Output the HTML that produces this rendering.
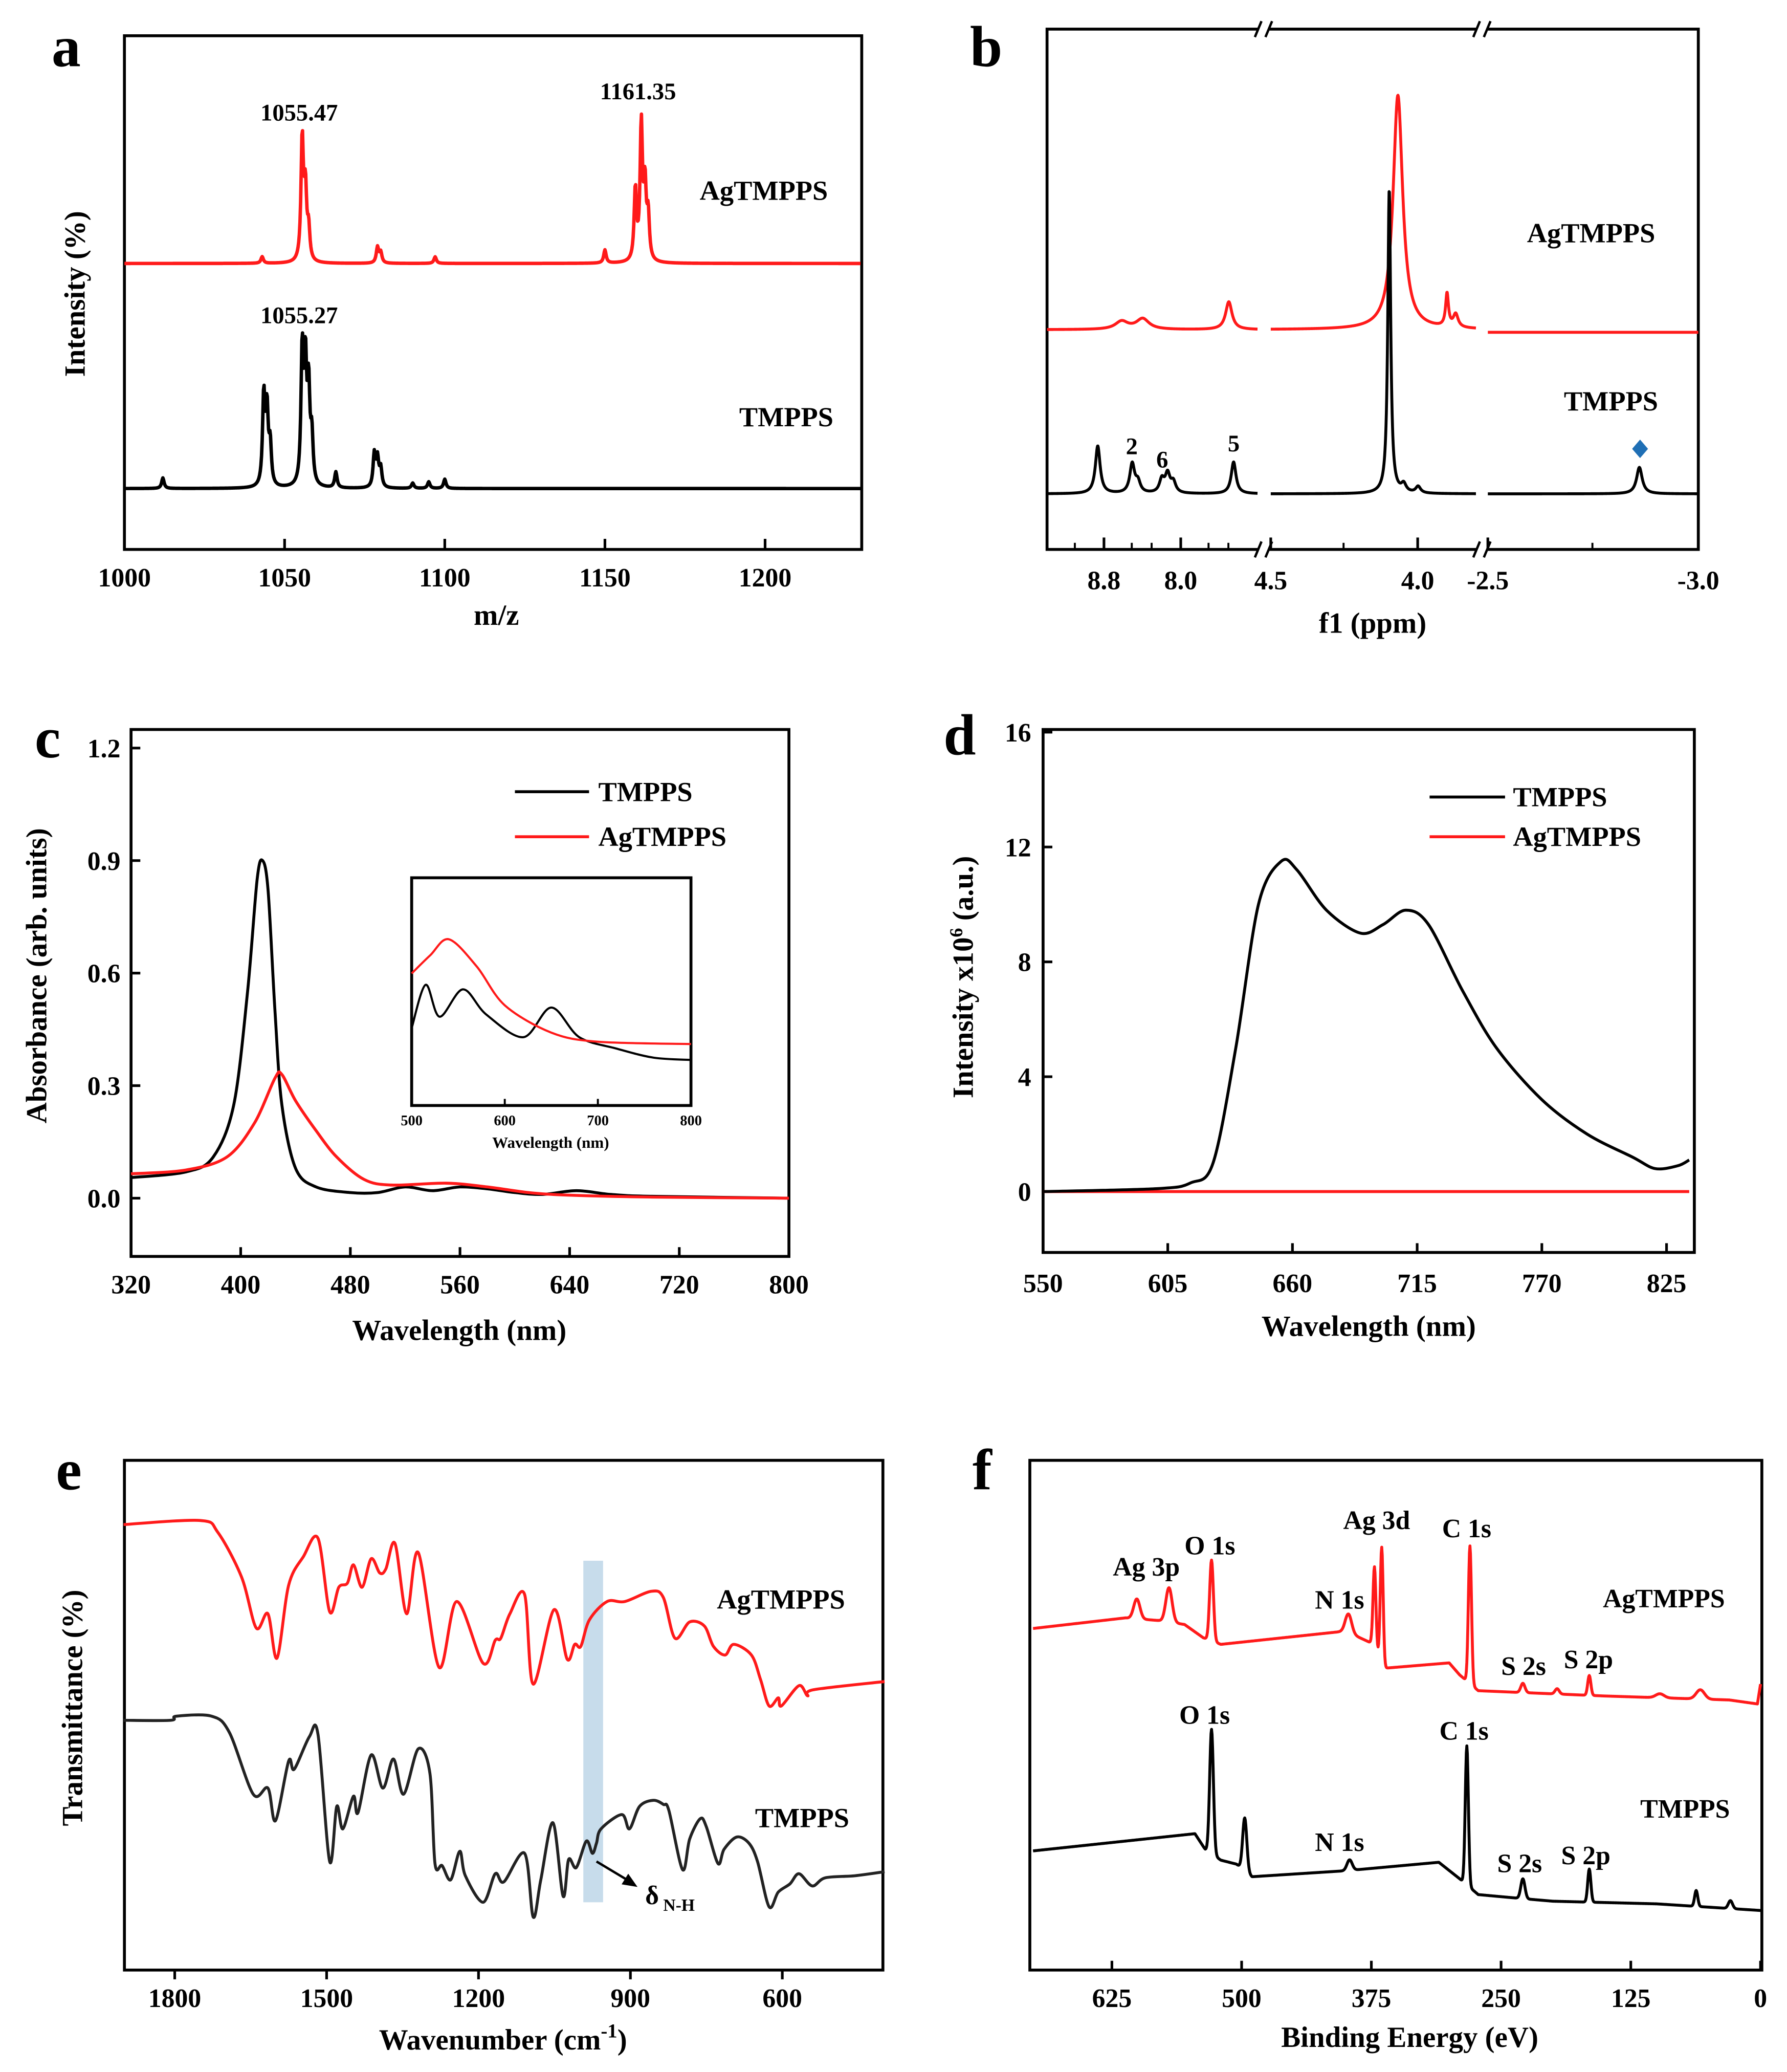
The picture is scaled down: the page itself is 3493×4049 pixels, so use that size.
<!DOCTYPE html>
<html><head><meta charset="utf-8"><style>
html,body{margin:0;padding:0;background:#fff}
svg{display:block}
text{font-family:"Liberation Serif",serif;font-weight:bold;fill:#000}
</style></head><body>
<svg id="fig" xmlns="http://www.w3.org/2000/svg" width="3493" height="4049" viewBox="0 0 1350 1565" preserveAspectRatio="none">
<rect width="1350" height="1565" fill="#fff"/>
</svg>
<script>
// ---------- DATA ----------
const aRedPeaks=[[1043,5],[1055.5,93],[1056.5,52],[1057.5,23],[1079,12],[1080,8],[1097,5],[1150,10],[1159.5,54],[1161.35,102],[1162.5,54],[1163.5,33]];
const aBlackPeaks=[[1012,8],[1043.5,68],[1044.5,56],[1045.5,30],[1055.5,100],[1056.5,87],[1057.5,70],[1058.5,35],[1066,12],[1078,25],[1079,21],[1080,14],[1090,4],[1095,5],[1100,7]];
const aTicks=[1000,1050,1100,1150,1200];
const bBlackPeaks=[[8.87,36,0.03],[8.51,22,0.03],[8.45,8,0.03],[8.20,10,0.03],[8.14,14,0.03],[8.08,8,0.03],[7.45,24,0.03],[4.09,230,0.006],[4.04,6,0.01],[3.99,5,0.01],[-2.86,20,0.008]];
const bRedPeaks=[[8.62,6,0.08],[8.40,8,0.08],[7.5,21,0.04],[4.06,177,0.02],[3.89,25,0.006],[3.86,10,0.01]];
const bTickLabels=[["8.8",834],["8.0",892],["4.5",960],["4.0",1071],["-2.5",1124],["-3.0",1283]];
const cWl=[320,360,380,395,405,412,416,420,425,430,440,455,480,500,520,540,560,580,600,620,645,670,700,800];
const cBlack=[0.055,0.07,0.11,0.25,0.55,0.85,0.9,0.82,0.5,0.25,0.08,0.03,0.015,0.015,0.03,0.02,0.03,0.025,0.015,0.01,0.02,0.01,0.005,0.0];
const cRedWl=[320,360,390,410,425,430,440,455,470,490,510,550,580,610,640,700,800];
const cRed=[0.065,0.075,0.11,0.2,0.32,0.33,0.26,0.18,0.11,0.05,0.035,0.04,0.03,0.015,0.008,0.003,0];
const cTicksX=[320,400,480,560,640,720,800];
const cTicksY=[0,0.3,0.6,0.9,1.2];
const insWlB=[500,515,530,555,580,620,650,680,720,760,800];
const insB=[0.34,0.53,0.39,0.51,0.4,0.3,0.43,0.3,0.25,0.21,0.2];
const insWlR=[500,520,540,570,600,650,700,800];
const insR=[0.58,0.66,0.73,0.61,0.44,0.32,0.28,0.27];
const dWl=[550,600,615,625,635,645,655,662,675,690,700,710,720,735,750,770,790,810,820,830,835];
const dBlack=[0,0.1,0.3,1,5,10,11.5,11.2,9.8,9.0,9.3,9.8,9.3,7,5,3.2,2,1.2,0.8,0.9,1.1];
const dRed=[0,0,0,0,0,0,0,0,0,0,0,0,0,0,0,0,0,0,0,0,0];
const dTicksX=[550,605,660,715,770,825];
const dTicksY=[0,4,8,12,16];
const eWnR=[1901,1750,1715,1668,1639,1616,1598,1575,1546,1517,1494,1476,1459,1447,1430,1412,1395,1383,1365,1342,1319,1278,1243,1191,1167,1156,1138,1109,1092,1051,1025,1010,998,981,946,911,859,835,812,783,754,736,713,696,661,643,626,608,602,567,550,538,398];
const eR=[87.4,88.2,85.9,77.1,67.1,69.9,61.2,75.5,81.1,84.7,70.3,75.1,75.9,79.5,75.1,80.7,77.9,78.7,83.7,69.9,81.9,59.4,72.3,60.2,64.7,65.1,69.9,73.7,56.1,70.7,61.0,63.9,63.5,68.7,72.3,72.3,74.3,73.1,65.1,68.3,67.5,63.5,61.8,63.9,61.8,57.0,51.8,53.4,51.8,55.8,53.8,55.0,56.6];
const eWnK=[1901,1808,1797,1727,1692,1645,1616,1601,1575,1564,1534,1517,1494,1480,1468,1447,1438,1412,1389,1368,1348,1319,1296,1286,1272,1255,1237,1226,1191,1167,1150,1109,1092,1077,1053,1033,1022,1007,987,975,967,958,917,902,882,855,835,824,797,783,762,750,727,715,690,666,649,626,608,585,567,541,515,457,398];
const eK=[49.0,49.0,49.8,49.8,46.6,34.5,35.7,29.3,41.0,39.4,45.8,46.2,21.3,32.1,27.7,34.1,30.9,42.2,35.7,41.4,34.5,43.4,38.6,20.9,20.5,17.7,23.3,18.5,13.3,18.9,17.3,22.9,10.4,17.7,28.9,14.5,21.7,20.1,25.3,22.9,24.9,27.7,30.5,27.7,32.1,33.3,32.5,31.3,19.7,25.7,29.7,28.1,20.9,23.7,26.1,24.9,21.3,12.4,15.3,16.9,18.9,16.5,18.1,18.5,19.3];
const eTicks=[1800,1500,1200,900,600];
const fRedBaseE=[701,612,580,555,537,520,400,375,362,300,290,272,150,30,3,0];
const fRedBase=[258,266,264,261,251,246,256,247,228,232,223,211,207,204,201,216];
const fRedPeaks=[[601,15,3],[570,26,3],[529,61,1.8],[397,14,3],[372,62,1.4],[365,87,1.4],[280,104,1.5],[229,7,2],[196,4,2],[165,15,1.5],[97,3,4],[58,7,4]];
const fBlackBaseE=[701,545,535,520,505,490,400,310,290,272,230,200,100,0];
const fBlackBase=[90,103,91,83,80,70.5,75,81.4,69,57,54,52,50,45];
const fBlackPeaks=[[529,94,1.8],[497,40,2],[396,8,2.5],[283,105,1.5],[229,15,2],[165,25,1.5],[62,12,1.5],[29,6,2]];
const fTicks=[625,500,375,250,125,0];

// ---------- helpers ----------
const svg=document.getElementById('fig');
const NS='http://www.w3.org/2000/svg';
function mk(tag,attrs,parent){const e=document.createElementNS(NS,tag);for(const k in attrs)e.setAttribute(k,attrs[k]);(parent||svg).appendChild(e);return e;}
function txt(s,x,y,size,anchor,parent,extra){const t=mk('text',Object.assign({x:x,y:y,'font-size':size,'text-anchor':anchor||'middle'},extra||{}),parent);t.textContent=s;return t;}
function lin(d0,d1,p0,p1){return v=>p0+(v-d0)*(p1-p0)/(d1-d0);}
function poly(pts,color,w,parent){return mk('polyline',{points:pts.map(p=>p[0].toFixed(2)+','+p[1].toFixed(2)).join(' '),fill:'none',stroke:color,'stroke-width':w,'stroke-linejoin':'round'},parent);}
function smooth(pts,color,w,parent){let d='M'+pts[0][0].toFixed(2)+','+pts[0][1].toFixed(2);for(let i=0;i<pts.length-1;i++){const p0=pts[Math.max(0,i-1)],p1=pts[i],p2=pts[i+1],p3=pts[Math.min(pts.length-1,i+2)];const t=0.16;const c1=[p1[0]+(p2[0]-p0[0])*t,p1[1]+(p2[1]-p0[1])*t],c2=[p2[0]-(p3[0]-p1[0])*t,p2[1]-(p3[1]-p1[1])*t];d+=`C${c1[0].toFixed(2)},${c1[1].toFixed(2)} ${c2[0].toFixed(2)},${c2[1].toFixed(2)} ${p2[0].toFixed(2)},${p2[1].toFixed(2)}`;}return mk('path',{d:d,fill:'none',stroke:color,'stroke-width':w,'stroke-linejoin':'round'},parent);}
function interp(xs,ys,x){for(let i=0;i<xs.length-1;i++){const a=xs[i],b=xs[i+1];if((x-a)*(x-b)<=0){return ys[i]+(ys[i+1]-ys[i])*(x-a)/(b-a);}}return ys[ys.length-1];}
function box(x,y,w,h,parent){mk('rect',{x:x,y:y,width:w,height:h,fill:'none',stroke:'#000','stroke-width':2.2},parent);}
function lor(x,c,w){return 1/(1+((x-c)/w)*((x-c)/w));}
function gau(x,c,w){return Math.exp(-0.5*((x-c)/w)*((x-c)/w));}

// ---------- panel a ----------
let g=mk('g',{});


txt('a',50,50,44,'middle',g,{'font-weight':'normal'});
box(94,27,557,388,g);
const axA=lin(1000,1200,94,578);
aTicks.forEach(t=>{mk('line',{x1:axA(t),y1:415,x2:axA(t),y2:407,stroke:'#000','stroke-width':2},g);txt(String(t),axA(t),443,20,'middle',g);});
function msLine(peaks,base,color,name){const pts=[];for(let m=1000;m<=1230;m+=0.2){let v=0;peaks.forEach(p=>v+=p[1]*lor(m,p[0],0.45));pts.push([axA(m),base-v]);}const l=poly(pts,color,2.6,g);}
msLine(aRedPeaks,199,'#ff1a1a','agtmpps-ms-line');
msLine(aBlackPeaks,369,'#000','tmpps-ms-line');
txt('1055.47',226,91,18,'middle',g);txt('1161.35',482,75,18,'middle',g);txt('1055.27',226,244,18,'middle',g);
txt('AgTMPPS',577,151,21,'middle',g);txt('TMPPS',594,322,21,'middle',g);
txt('Intensity (%)',0,0,22,'middle',g,{transform:'translate(64,222) rotate(-90)'});
txt('m/z',375,472,22,'middle',g);

// ---------- panel b ----------
g=mk('g',{});


txt('b',745,50,44,'middle',g,{'font-weight':'normal'});
box(791,22,492,393,g);
[[955,22],[1120,22],[955,415],[1120,415]].forEach(p=>{mk('rect',{x:p[0]-4,y:p[1]-4,width:8,height:8,fill:'#fff'},g);mk('path',{d:`M${p[0]-7},${p[1]+6}L${p[0]-2},${p[1]-6}M${p[0]+1},${p[1]+6}L${p[0]+6},${p[1]-6}`,stroke:'#000','stroke-width':1.8,fill:'none'},g);});
const segs=[[9.4,7.2,791,950],[4.5,3.79,960,1115],[-2.5,-3.0,1124,1283]];
bTickLabels.forEach(t=>{txt(t[0],t[1],445,20,'middle',g);mk('line',{x1:t[1],y1:415,x2:t[1],y2:406,stroke:'#000','stroke-width':2},g);});
[812,855,870,913,928,1015,1203].forEach(x=>mk('line',{x1:x,y1:415,x2:x,y2:410,stroke:'#000','stroke-width':1.5},g));
function nmr(peaks,base,color,name){segs.forEach((s,i)=>{const f=lin(s[0],s[1],s[2],s[3]);const pts=[];const n=600;for(let k=0;k<=n;k++){const p=s[0]+(s[1]-s[0])*k/n;let v=0;peaks.forEach(q=>v+=q[1]*lor(p,q[0],q[2]));pts.push([f(p),base[i]-v]);}const l=poly(pts,color,2.2,g);});}
nmr(bRedPeaks,[249,249,251],'#ff1a1a','agtmpps-nmr');
nmr(bBlackPeaks,[373,373,373],'#000','tmpps-nmr');
mk('path',{d:'M1239,332 L1245,339 L1239,346 L1233,339Z',fill:'#1f6fb5'},g);
txt('2',855,343,18,'middle',g);txt('6',878,353,18,'middle',g);txt('5',932,341,18,'middle',g);
txt('AgTMPPS',1202,183,21,'middle',g);txt('TMPPS',1217,310,21,'middle',g);
txt('f1 (ppm)',1037,478,22,'middle',g);

// ---------- panel c ----------
g=mk('g',{});


txt('c',36,572,44,'middle',g,{'font-weight':'normal'});
box(99,551,497,398,g);
const cx=lin(320,800,99,596),cy=lin(0,1.2,905,565);
cTicksX.forEach(t=>{mk('line',{x1:cx(t),y1:949,x2:cx(t),y2:942,stroke:'#000','stroke-width':2},g);txt(String(t),cx(t),977,20,'middle',g);});
cTicksY.forEach(t=>{mk('line',{x1:99,y1:cy(t),x2:106,y2:cy(t),stroke:'#000','stroke-width':2},g);txt(t.toFixed(1),91,cy(t)+7,20,'end',g);});
let l=smooth(cWl.map((w,i)=>[cx(w),cy(cBlack[i])]),'#000',2.2,g);

l=smooth(cRedWl.map((w,i)=>[cx(w),cy(cRed[i])]),'#ff1a1a',2.2,g);

mk('line',{x1:389,y1:598,x2:445,y2:598,stroke:'#000','stroke-width':2.2},g);txt('TMPPS',452,605,21,'start',g);
mk('line',{x1:389,y1:632,x2:445,y2:632,stroke:'#ff1a1a','stroke-width':2.2},g);txt('AgTMPPS',452,639,21,'start',g);
const ins=mk('g',{},g);


box(311,663,211,172,ins);
const ix=lin(500,800,311,522),iy=lin(0,1,835,663);
[500,600,700,800].forEach(t=>{mk('line',{x1:ix(t),y1:835,x2:ix(t),y2:830,stroke:'#000','stroke-width':1.5},ins);txt(String(t),ix(t),850,11,'middle',ins);});
smooth(insWlB.map((w,i)=>[ix(w),iy(insB[i])]),'#000',1.6,ins);
smooth(insWlR.map((w,i)=>[ix(w),iy(insR[i])]),'#ff1a1a',1.6,ins);
txt('Wavelength (nm)',416,867,12,'middle',ins);
txt('Absorbance (arb. units)',0,0,22,'middle',g,{transform:'translate(35,737) rotate(-90)'});
txt('Wavelength (nm)',347,1012,22,'middle',g);

// ---------- panel d ----------
g=mk('g',{});


txt('d',725,570,44,'middle',g,{'font-weight':'normal'});
box(788,551,492,395,g);
const dx=lin(550,825,788,1259),dy=lin(0,16,900,553);
dTicksX.forEach(t=>{mk('line',{x1:dx(t),y1:946,x2:dx(t),y2:939,stroke:'#000','stroke-width':2},g);txt(String(t),dx(t),976,20,'middle',g);});
dTicksY.forEach(t=>{mk('line',{x1:788,y1:dy(t),x2:795,y2:dy(t),stroke:'#000','stroke-width':2},g);txt(String(t),779,dy(t)+7,20,'end',g);});
l=poly(dWl.map((w,i)=>[dx(w),dy(dRed[i])]),'#ff1a1a',2.2,g);

l=smooth(dWl.map((w,i)=>[dx(w),dy(dBlack[i])]),'#000',2.2,g);

mk('line',{x1:1080,y1:602,x2:1137,y2:602,stroke:'#000','stroke-width':2.2},g);txt('TMPPS',1143,609,21,'start',g);
mk('line',{x1:1080,y1:632,x2:1137,y2:632,stroke:'#ff1a1a','stroke-width':2.2},g);txt('AgTMPPS',1143,639,21,'start',g);
const dt=txt('Intensity x10',0,0,22,'middle',g,{transform:'translate(735,738) rotate(-90)'});
const sup=mk('tspan',{'font-size':14,dy:-8},dt);sup.textContent='6';
const rest=mk('tspan',{dy:8},dt);rest.textContent=' (a.u.)';
txt('Wavelength (nm)',1034,1009,22,'middle',g);

// ---------- panel e ----------
g=mk('g',{});


txt('e',52,1125,44,'middle',g,{'font-weight':'normal'});
const ex=lin(1800,600,132,591),ey=lin(0,100,1488,1103);
mk('rect',{x:ex(993),y:ey(80.3),width:ex(954)-ex(993),height:ey(13.3)-ey(80.3),fill:'#b9d3e6',opacity:0.8},g);
box(94,1103,573,385,g);
eTicks.forEach(t=>{mk('line',{x1:ex(t),y1:1488,x2:ex(t),y2:1495,stroke:'#000','stroke-width':2},g);txt(String(t),ex(t),1516,20,'middle',g);});
l=smooth(eWnR.map((w,i)=>[ex(w),ey(eR[i])]),'#ff1a1a',2.2,g);

l=smooth(eWnK.map((w,i)=>[ex(w),ey(eK[i])]),'#222',2.2,g);

mk('line',{x1:ex(967),y1:ey(21.3),x2:ex(893),y2:ey(16.9),stroke:'#000','stroke-width':1.8},g);
mk('path',{d:`M${ex(886)},${ey(16.3)} l-12,-2 l5,-8Z`,fill:'#000'},g);
const dl=txt('δ',ex(876)+2,ey(14.5)+6,20,'start',g,{'font-weight':'normal'});
const dsub=mk('tspan',{'font-size':13,dy:5,'font-weight':'bold'},dl);dsub.textContent=' N-H';
txt('AgTMPPS',590,1215,21,'middle',g);txt('TMPPS',606,1380,21,'middle',g);
txt('Transmittance (%)',0,0,22,'middle',g,{transform:'translate(62,1290) rotate(-90)'});
const et=txt('Wavenumber (cm',380,1548,22,'middle',g);
const es=mk('tspan',{'font-size':15,dy:-9},et);es.textContent='-1';
const ee=mk('tspan',{dy:9},et);ee.textContent=')';

// ---------- panel f ----------
g=mk('g',{});


txt('f',742,1125,44,'middle',g,{'font-weight':'normal'});
box(778,1103,553,385,g);
const fx=lin(625,0,840,1330),fy=v=>1488-v;
fTicks.forEach(t=>{mk('line',{x1:fx(t),y1:1488,x2:fx(t),y2:1481,stroke:'#000','stroke-width':2},g);txt(String(t),fx(t),1516,20,'middle',g);});
function xps(bE,bV,peaks,color,name){const pts=[];for(let e=701;e>=0;e-=0.5){let v=interp(bE,bV,e);peaks.forEach(p=>v+=p[1]*gau(e,p[0],p[2]));pts.push([fx(e),fy(v)]);}const l=poly(pts,color,2.2,g);}
xps(fRedBaseE,fRedBase,fRedPeaks,'#ff1a1a','agtmpps-xps-line');
xps(fBlackBaseE,fBlackBase,fBlackPeaks,'#000','tmpps-xps-line');
[['Ag 3p',866,1190],['O 1s',914,1174],['Ag 3d',1040,1155],['C 1s',1108,1161],['N 1s',1012,1215],['S 2s',1151,1265],['S 2p',1200,1260],['AgTMPPS',1257,1214],
 ['O 1s',910,1302],['C 1s',1106,1314],['N 1s',1012,1398],['S 2s',1148,1414],['S 2p',1198,1408],['TMPPS',1273,1373]].forEach(a=>txt(a[0],a[1],a[2],20,'middle',g));
txt('Binding Energy (eV)',1065,1546,22,'middle',g);
</script>
</body></html>
